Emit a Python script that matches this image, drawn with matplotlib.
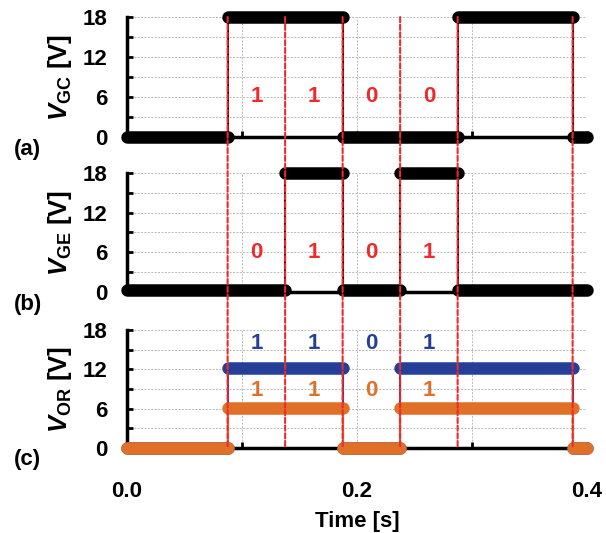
import numpy as np
import matplotlib
matplotlib.use('Agg')
import matplotlib.pyplot as plt
from matplotlib.patches import ConnectionPatch

plt.rcParams['font.family'] = 'Liberation Sans'
plt.rcParams['font.weight'] = 'bold'
plt.rcParams['axes.labelweight'] = 'bold'
plt.rcParams['mathtext.fontset'] = 'custom'
plt.rcParams['mathtext.it'] = 'Liberation Sans:bold:italic'
plt.rcParams['mathtext.rm'] = 'Liberation Sans:bold'
plt.rcParams['mathtext.bf'] = 'Liberation Sans:bold'

# step signals: edge times and level held after each edge
gc_t = [0.0, 0.0875, 0.1875, 0.2875, 0.3875, 0.4]
gc_v = [0, 18, 0, 18, 0]

ge_t = [0.0, 0.1375, 0.1875, 0.2375, 0.2875, 0.4]
ge_v = [0.3, 18, 0.3, 18, 0.3]

or_t = [0.0, 0.0875, 0.1875, 0.2375, 0.3875, 0.4]
or_blue = [0, 12.2, 0, 12.2, 0]
or_orange = [0, 6.1, 0, 6.1, 0]

# dashed bit boundaries
bounds = [0.0875, 0.1375, 0.1875, 0.2375, 0.2875, 0.3875]

# bit labels
bit_x = [0.1125, 0.1625, 0.2125, 0.2625]
bits_gc = ['1', '1', '0', '0']
bits_ge = ['0', '1', '0', '1']
bits_blue = ['1', '1', '0', '1']
bits_orange = ['1', '1', '0', '1']

RED = '#ee2a2a'
BLUE = '#253f98'
ORANGE = '#e07028'


def draw_signal(ax, t, v, color, z):
    # thin connecting line
    ax.plot(t, list(v) + [v[-1]], drawstyle='steps-post', color=color,
            lw=1.5, zorder=z, clip_on=False)
    # dense markers look like a thick band
    for i in range(len(v)):
        ax.plot([t[i], t[i + 1]], [v[i], v[i]], color=color, lw=9,
                solid_capstyle='round', zorder=z, clip_on=False)


def style(ax, ylabel, show_x):
    ax.set_xlim(0, 0.4)
    ax.set_ylim(0, 18)
    ax.set_yticks([0, 6, 12, 18])
    ax.set_yticks([3, 9, 15], minor=True)
    ax.set_xticks([0.0, 0.2, 0.4])
    ax.set_xticks([0.1, 0.3], minor=True)
    ax.grid(True, which='both', color='#b8b8b8', ls=(0, (2, 1.5)), lw=0.7)
    ax.set_axisbelow(True)
    for s in ['top', 'right']:
        ax.spines[s].set_visible(False)
    for s in ['left', 'bottom']:
        ax.spines[s].set_linewidth(2.5)
    ax.tick_params(which='both', direction='in', length=4, width=2,
                   labelsize=16)
    ax.tick_params(axis='y', pad=14)
    ax.tick_params(axis='x', pad=24)
    if not show_x:
        ax.tick_params(axis='x', labelbottom=False)
    else:
        ax.set_xticklabels(['0.0', '0.2', '0.4'])
    ax.set_ylabel(ylabel, fontsize=18.5, labelpad=6)


fig = plt.figure(figsize=(6.06, 5.33), dpi=100)
left, width = 127 / 606, 460 / 606
ax_a = fig.add_axes([left, 0.743, width, 0.2251])
ax_b = fig.add_axes([left, 0.4522, width, 0.2233])
ax_c = fig.add_axes([left, 0.1595, width, 0.2214])

draw_signal(ax_a, gc_t, gc_v, 'black', 3)
draw_signal(ax_b, ge_t, ge_v, 'black', 3)
draw_signal(ax_c, or_t, or_blue, BLUE, 3)
draw_signal(ax_c, or_t, or_orange, ORANGE, 4)

for x, b in zip(bit_x, bits_gc):
    ax_a.text(x, 6, b, color=RED, fontsize=16, ha='center', va='center')
for x, b in zip(bit_x, bits_ge):
    ax_b.text(x, 6, b, color=RED, fontsize=16, ha='center', va='center')
for x, b in zip(bit_x, bits_blue):
    ax_c.text(x, 16, b, color=BLUE, fontsize=16, ha='center', va='center')
for x, b in zip(bit_x, bits_orange):
    ax_c.text(x, 8.8, b, color=ORANGE, fontsize=16, ha='center', va='center')

style(ax_a, r'$V_{\mathrm{GC}}$ [V]', False)
style(ax_b, r'$V_{\mathrm{GE}}$ [V]', False)
style(ax_c, r'$V_{\mathrm{OR}}$ [V]', True)
ax_c.set_xlabel('Time [s]', fontsize=16, labelpad=6)

for x in bounds:
    con = ConnectionPatch(xyA=(x, 18), coordsA=ax_a.transData,
                          xyB=(x, 0), coordsB=ax_c.transData,
                          color=RED, lw=1.5, ls=(0, (2.5, 1.2)), zorder=5)
    fig.add_artist(con)

for lab, y in [('(a)', 0.720), ('(b)', 0.4296), ('(c)', 0.137)]:
    fig.text(0.023, y, lab, fontsize=16, ha='left', va='center')

fig.savefig('out.png', dpi=100)
